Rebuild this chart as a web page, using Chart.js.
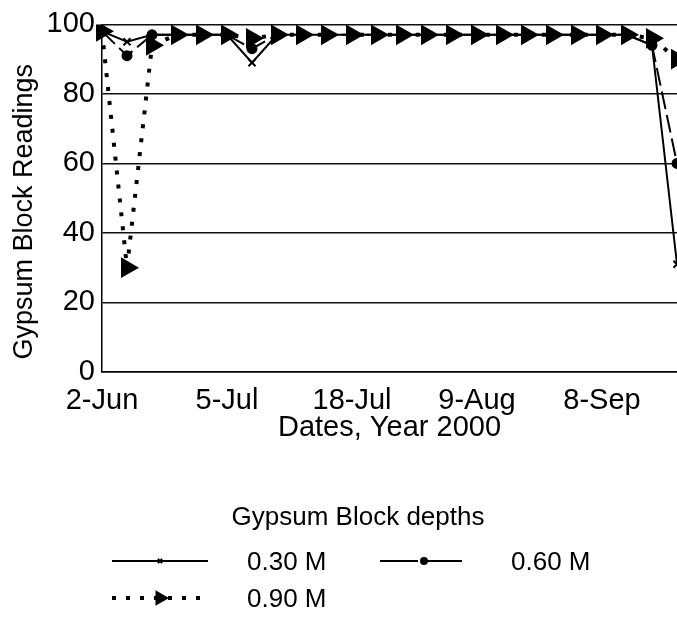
<!DOCTYPE html>
<html lang="en">
  <head>
    <meta charset="UTF-8" />
    <title>Gypsum Block Readings</title>
    <script src="https://cdn.jsdelivr.net/npm/chart.js"></script>
    <style>
      html, body { margin: 0; padding: 0; background: #fff; overflow: hidden; }
      #wrap { position: relative; width: 677px; height: 618px; }
    </style>
  </head>
  <body>
    <div id="wrap"><canvas id="gypsum-chart"></canvas></div>
    <script>
      // only every fifth reading date is labelled on the original axis
      const dates = [
        "2-Jun", "", "", "", "", "5-Jul", "", "", "", "", "18-Jul", "", "",
        "", "", "9-Aug", "", "", "", "", "8-Sep", "", "", ""
      ];
      const depth030 = [98, 95, 97, 97, 97, 97, 89, 97, 97, 97, 97, 97, 97, 97, 97, 97, 97, 97, 97, 97, 97, 97, 94, 31];
      const depth060 = [98, 91, 97, 97, 97, 97, 93, 97, 97, 97, 97, 97, 97, 97, 97, 97, 97, 97, 97, 97, 97, 97, 94, 60];
      const depth090 = [98, 30, 94, 97, 97, 97, 96, 97, 97, 97, 97, 97, 97, 97, 97, 97, 97, 97, 97, 97, 97, 97, 96, 90];
      const seriesNames = ["0.30 M", "0.60 M", "0.90 M"];
      const yTicks = [0, 20, 40, 60, 80, 100];

      const FONT = '"Liberation Sans", Arial, sans-serif';
      Chart.defaults.font.family = FONT;
      Chart.defaults.color = "#000";

      // legend drawn by hand: two columns, title on top
      const depthLegend = {
        id: "depthLegend",
        afterDraw(chart) {
          const ctx = chart.ctx;
          ctx.save();
          ctx.fillStyle = "#000";
          ctx.strokeStyle = "#000";
          ctx.font = "26px " + FONT;
          ctx.textAlign = "center";
          ctx.fillText("Gypsum Block depths", 358, 525);
          chart.data.datasets.forEach((ds, i) => {
            const col = i % 2;
            const row = Math.floor(i / 2);
            const x0 = [112, 380][col];
            const x1 = [208, 468][col];
            const y = 561 + row * 37;
            ctx.lineWidth = ds.borderWidth;
            ctx.setLineDash(ds.legendDash || ds.borderDash || []);
            ctx.beginPath();
            ctx.moveTo(x0, y);
            ctx.lineTo(x1, y);
            ctx.stroke();
            ctx.setLineDash([]);
            Chart.helpers.drawPoint(ctx, {
              pointStyle: ds.pointStyle,
              radius: ds.legendRadius,
              rotation: ds.pointRotation || 0,
              borderWidth: 1.5,
            }, (x0 + x1) / 2, y);
            ctx.textAlign = "left";
            ctx.fillText(ds.label, [247, 511][col], y + 9);
          });
          ctx.restore();
        },
      };

      const ctx = document.getElementById("gypsum-chart").getContext("2d");
      new Chart(ctx, {
        type: "line",
        data: {
          labels: dates,
          datasets: [
            {
              label: seriesNames[0],
              data: depth030,
              borderColor: "#000",
              backgroundColor: "#000",
              borderWidth: 2,
              pointStyle: "crossRot",
              pointRadius: 5,
              pointBorderWidth: 2,
              legendRadius: 3,
              order: 2,
            },
            {
              label: seriesNames[1],
              data: depth060,
              borderColor: "#000",
              backgroundColor: "#000",
              borderWidth: 2,
              borderDash: [18, 6],
              legendDash: [38, 6],
              pointStyle: "circle",
              pointRadius: 4.5,
              legendRadius: 3,
              order: 1,
            },
            {
              label: seriesNames[2],
              data: depth090,
              borderColor: "#000",
              backgroundColor: "#000",
              borderWidth: 4,
              borderDash: [4, 10],
              pointStyle: "triangle",
              pointRotation: 90,
              pointRadius: 8,
              legendRadius: 5,
              order: 0,
            },
          ],
        },
        options: {
          responsive: true,
          maintainAspectRatio: false,
          animation: false,
          layout: { autoPadding: false, padding: { left: 0, top: 22, right: 0, bottom: 173 } },
          elements: { line: { tension: 0 } },
          scales: {
            x: {
              // invisible tick marks give the label gap without padding the right edge
              grid: { display: true, color: "rgba(0,0,0,0)", drawOnChartArea: false, drawTicks: true, tickLength: 12 },
              border: { display: true, color: "#000", width: 1.5 },
              ticks: {
                autoSkip: false,
                maxRotation: 0,
                minRotation: 0,
                padding: 0,
                font: { size: 29 },
              },
              title: {
                display: true,
                text: "Dates, Year 2000",
                font: { size: 29 },
                padding: 0,
              },
              afterFit: (scale) => { scale.height = 73; },
            },
            y: {
              min: 0,
              max: 100,
              afterBuildTicks: (scale) => { scale.ticks = yTicks.map((v) => ({ value: v })); },
              grid: { color: "#111", lineWidth: 1.5, drawTicks: false },
              border: { display: true, color: "#000", width: 1.5 },
              ticks: { padding: 7, font: { size: 29 } },
              title: {
                display: true,
                text: "Gypsum Block Readings\u2002\u2002",
                font: { size: 27 },
                padding: { top: 8, bottom: 0 },
              },
              afterFit: (scale) => { scale.width = 102; },
            },
          },
          plugins: {
            legend: { display: false },
            tooltip: { enabled: false },
          },
        },
        plugins: [depthLegend],
      });
    </script>
  </body>
</html>
